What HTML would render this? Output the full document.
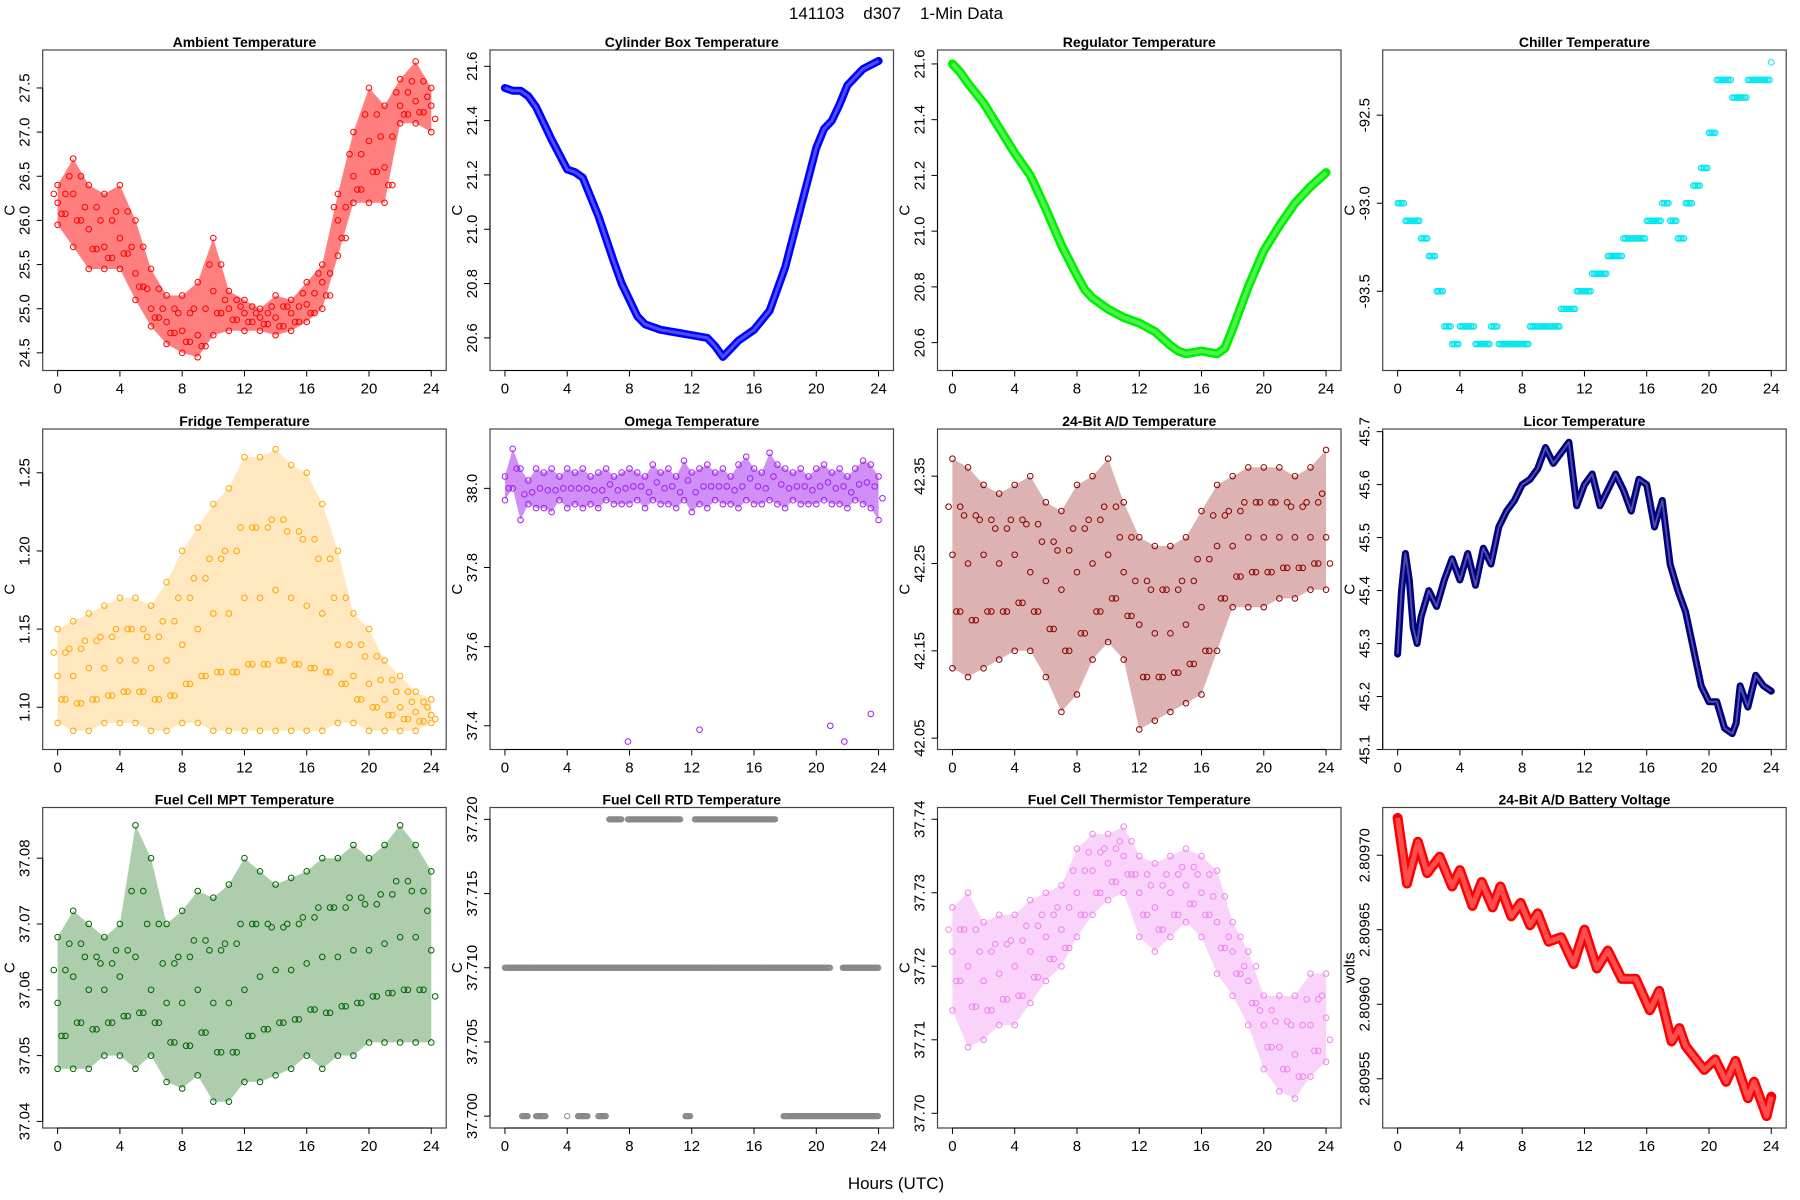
<!DOCTYPE html>
<html><head><meta charset="utf-8"><title>141103 d307 1-Min Data</title>
<style>
html,body{margin:0;padding:0;background:#fff;}
svg{display:block;font-family:"Liberation Sans",Arial,sans-serif;}
</style></head>
<body>
<svg id="chart" width="1800" height="1200" viewBox="0 0 1800 1200" xmlns="http://www.w3.org/2000/svg">
<text x="896" y="19" font-size="17" text-anchor="middle" style="white-space:pre">141103    d307    1-Min Data</text>
<text x="896" y="1189" font-size="17" text-anchor="middle">Hours (UTC)</text>
</svg>
<script>
// ---------- data ----------
const hours = [0,1,2,3,4,5,6,7,8,9,10,11,12,13,14,15,16,17,18,19,20,21,22,23,24];
const halfHours = [0,0.5,1,1.5,2,2.5,3,3.5,4,4.5,5,5.5,6,6.5,7,7.5,8,8.5,9,9.5,10,10.5,11,11.5,12,12.5,13,13.5,14,14.5,15,15.5,16,16.5,17,17.5,18,18.5,19,19.5,20,20.5,21,21.5,22,22.5,23,23.5,24];

const ambientMid = [26.2,26.3,25.9,25.7,25.8,25.4,25.0,24.85,24.75,24.7,25.2,25.0,24.95,24.9,24.9,24.95,25.05,25.3,26.0,26.5,26.9,26.6,27.3,27.35,27.3];
const ambientLo  = [25.95,25.7,25.45,25.45,25.45,25.1,24.8,24.6,24.5,24.45,24.7,24.75,24.75,24.75,24.7,24.75,24.85,25.0,25.6,26.2,26.2,26.2,27.1,27.1,27.0];
const ambientHi  = [26.4,26.7,26.4,26.3,26.4,26.0,25.45,25.15,25.15,25.3,25.8,25.2,25.1,25.0,25.15,25.1,25.3,25.5,26.3,27.0,27.5,27.3,27.6,27.8,27.5];

const cylinderT = [0,0.5,1,1.5,2,3,4,4.5,5,6,7,7.5,8,8.5,9,10,11,12,13,13.5,14,14.5,15,16,17,17.5,18,19,20,20.5,21,21.5,22,23,24];
const cylinderVals = [21.52,21.51,21.51,21.49,21.45,21.33,21.22,21.21,21.19,21.05,20.88,20.8,20.74,20.68,20.65,20.63,20.62,20.61,20.6,20.57,20.53,20.56,20.59,20.63,20.7,20.78,20.86,21.08,21.3,21.37,21.4,21.46,21.53,21.59,21.62];
const regulatorT = [0,0.5,1,2,3,4,5,6,7,8,8.5,9,10,11,12,13,14,14.5,15,16,17,17.5,18,19,20,21,22,23,24];
const regulatorVals = [21.6,21.57,21.53,21.46,21.37,21.28,21.2,21.08,20.95,20.84,20.79,20.76,20.72,20.69,20.67,20.64,20.59,20.57,20.56,20.57,20.56,20.58,20.65,20.8,20.93,21.02,21.1,21.16,21.21];

const chillerVals = [-93.0,-93.1,-93.1,-93.2,-93.3,-93.5,-93.7,-93.8,-93.7,-93.7,-93.8,-93.8,-93.7,-93.8,-93.8,-93.8,-93.8,-93.7,-93.7,-93.7,-93.7,-93.6,-93.6,-93.5,-93.5,-93.4,-93.4,-93.3,-93.3,-93.2,-93.2,-93.2,-93.1,-93.1,-93.0,-93.1,-93.2,-93.0,-92.9,-92.8,-92.6,-92.3,-92.3,-92.4,-92.4,-92.3,-92.3,-92.3,-92.2];

const fridgeHi  = [1.15,1.155,1.16,1.165,1.17,1.17,1.165,1.18,1.2,1.215,1.23,1.24,1.26,1.26,1.265,1.255,1.25,1.23,1.2,1.16,1.15,1.13,1.12,1.11,1.105];
const fridgeMid = [1.12,1.12,1.125,1.125,1.13,1.13,1.125,1.13,1.14,1.15,1.16,1.16,1.17,1.17,1.175,1.17,1.165,1.16,1.14,1.12,1.115,1.105,1.1,1.097,1.095];
const fridgeLo  = [1.09,1.085,1.085,1.09,1.09,1.09,1.085,1.085,1.09,1.09,1.085,1.085,1.085,1.085,1.085,1.085,1.085,1.085,1.09,1.09,1.085,1.085,1.085,1.085,1.09];

const omegaHi = [38.03,38.1,38.05,38.02,38.05,38.04,38.05,38.03,38.05,38.04,38.05,38.03,38.04,38.05,38.03,38.04,38.05,38.04,38.03,38.06,38.04,38.05,38.03,38.07,38.04,38.05,38.06,38.04,38.05,38.03,38.06,38.08,38.05,38.04,38.09,38.06,38.05,38.04,38.05,38.03,38.05,38.06,38.04,38.05,38.03,38.05,38.07,38.06,38.03];
const omegaLo = [37.97,38.0,37.92,37.96,37.95,37.95,37.94,37.97,37.95,37.96,37.95,37.96,37.95,37.97,37.96,37.96,37.96,37.97,37.95,37.97,37.96,37.96,37.95,37.97,37.94,37.96,37.95,37.97,37.96,37.96,37.95,37.97,37.96,37.96,37.97,37.96,37.95,37.97,37.96,37.96,37.96,37.97,37.96,37.96,37.95,37.97,37.96,37.95,37.92];
const omegaOutlierT = [7.9,12.5,20.9,21.8,23.5];
const omegaOutlierV = [37.36,37.39,37.40,37.36,37.43];

const adHi  = [42.37,42.36,42.34,42.33,42.34,42.35,42.32,42.31,42.34,42.35,42.37,42.32,42.28,42.27,42.27,42.28,42.31,42.34,42.35,42.36,42.36,42.36,42.35,42.36,42.38];
const adMid = [42.26,42.25,42.26,42.25,42.26,42.24,42.23,42.22,42.24,42.25,42.26,42.24,42.18,42.17,42.17,42.18,42.2,42.27,42.27,42.28,42.28,42.28,42.28,42.28,42.28];
const adLo  = [42.13,42.12,42.13,42.14,42.15,42.15,42.12,42.08,42.1,42.14,42.16,42.14,42.06,42.07,42.08,42.09,42.1,42.15,42.2,42.2,42.2,42.21,42.21,42.22,42.22];

const licorT = [0,0.25,0.5,0.75,1.0,1.25,1.5,2,2.5,3,3.5,4,4.5,5,5.5,6,6.5,7,7.5,8,8.5,9,9.5,10,10.5,11,11.5,12,12.5,13,13.5,14,14.5,15,15.5,16,16.5,17,17.5,18,18.5,19,19.5,20,20.5,21,21.5,21.75,22,22.5,23,23.5,24];
const licorVals = [45.28,45.4,45.47,45.42,45.33,45.3,45.35,45.4,45.37,45.42,45.46,45.42,45.47,45.41,45.48,45.45,45.52,45.55,45.57,45.6,45.61,45.63,45.67,45.64,45.66,45.68,45.56,45.6,45.62,45.56,45.59,45.62,45.59,45.55,45.61,45.6,45.52,45.57,45.45,45.4,45.36,45.29,45.22,45.19,45.19,45.14,45.13,45.15,45.22,45.18,45.24,45.22,45.21];

const mptHi  = [37.068,37.072,37.07,37.068,37.07,37.085,37.08,37.07,37.072,37.075,37.074,37.076,37.08,37.078,37.076,37.077,37.078,37.08,37.08,37.082,37.08,37.082,37.085,37.082,37.078];
const mptMid = [37.058,37.062,37.06,37.06,37.062,37.065,37.06,37.058,37.058,37.06,37.058,37.058,37.06,37.062,37.063,37.063,37.064,37.065,37.065,37.066,37.066,37.067,37.068,37.068,37.066];
const mptLo  = [37.048,37.048,37.048,37.05,37.05,37.048,37.05,37.046,37.045,37.047,37.043,37.043,37.046,37.046,37.047,37.048,37.05,37.048,37.05,37.05,37.052,37.052,37.052,37.052,37.052];

const rtdLevel = [37.71,37.71,37.72,37.72,37.72,37.70,37.70,37.70,37.70,37.70,37.70,37.70];
const rtdStart = [0,21.7,6.7,7.9,12.2,1.1,2.0,4.0,4.7,6.0,11.6,17.9];
const rtdEnd   = [20.9,24,7.5,11.3,17.4,1.5,2.6,4.0,5.3,6.5,11.9,24];

const thermHi  = [37.728,37.73,37.726,37.727,37.727,37.729,37.73,37.731,37.736,37.738,37.738,37.739,37.735,37.734,37.735,37.736,37.735,37.733,37.726,37.722,37.716,37.716,37.716,37.719,37.719];
const thermMid = [37.722,37.72,37.718,37.719,37.72,37.722,37.724,37.725,37.73,37.733,37.734,37.735,37.73,37.728,37.73,37.731,37.73,37.726,37.722,37.718,37.712,37.709,37.708,37.712,37.713];
const thermLo  = [37.714,37.709,37.71,37.712,37.712,37.715,37.718,37.72,37.724,37.727,37.729,37.73,37.724,37.722,37.724,37.726,37.724,37.719,37.716,37.712,37.706,37.703,37.702,37.705,37.707];

const batteryT = [0,0.6,1.3,1.9,2.7,3.5,4.0,4.8,5.4,6.1,6.6,7.3,7.9,8.5,9.0,9.7,10.5,11.3,12.0,12.8,13.5,14.4,15.3,16.2,16.8,17.6,18.1,18.5,19.7,20.4,21.1,21.7,22.5,22.9,23.7,24];
const batteryV = [2.809725,2.809681,2.809709,2.809688,2.809699,2.809679,2.80969,2.809666,2.809682,2.809665,2.809679,2.809659,2.809668,2.809653,2.809661,2.809642,2.809645,2.809627,2.80965,2.809624,2.809636,2.809617,2.809617,2.809596,2.809609,2.809575,2.809584,2.809572,2.809556,2.809563,2.809548,2.809562,2.809537,2.809548,2.809525,2.809538];

const xTicks = [0,4,8,12,16,20,24];

// ---------- layout ----------
const NS = "http://www.w3.org/2000/svg";
const svg = document.getElementById('chart');
const lefts = [42.7,490,937.5,1382.7], tops = [50,429,807.5];
const PW = 403.5, PH = 320.5;

function mk(tag, attrs, parent){
  const e = document.createElementNS(NS, tag);
  for (const k in attrs) e.setAttribute(k, attrs[k]);
  (parent||svg).appendChild(e);
  return e;
}

function makePanel(col,row,title,ylim,yticks,ylabels,ytitle,name){
  const g = mk('g',{});
  
  
  const L = lefts[col], T = tops[row];
  const xs = t => L + (t+0.96)/25.92*PW;
  const ys = v => T + (ylim[1]-v)/(ylim[1]-ylim[0])*PH;
  const marks = mk('g',{'clip-path':'url(#clip'+col+row+')'},g);
  
  
  const cp = mk('clipPath',{id:'clip'+col+row},g);
  mk('rect',{x:L,y:T,width:PW,height:PH},cp);
  const box = mk('rect',{x:L,y:T,width:PW,height:PH,fill:'none',stroke:'#444','stroke-width':1.2},g);
  
  
  const B = T+PH;
  mk('line',{x1:xs(0),x2:xs(24),y1:B,y2:B,stroke:'#000','stroke-width':1},g);
  xTicks.forEach(t=>{
    mk('line',{x1:xs(t),x2:xs(t),y1:B,y2:B+6,stroke:'#000','stroke-width':1},g);
    const tx = mk('text',{x:xs(t),y:B+23,'font-size':15,'text-anchor':'middle'},g);
    tx.textContent = t;
    
    
  });
  mk('line',{x1:L,x2:L,y1:ys(yticks[0]),y2:ys(yticks[yticks.length-1]),stroke:'#000','stroke-width':1},g);
  yticks.forEach((v,i)=>{
    const y = ys(v);
    mk('line',{x1:L-6,x2:L,y1:y,y2:y,stroke:'#000','stroke-width':1},g);
    const tx = mk('text',{x:L-13,y:y,'font-size':15,'text-anchor':'middle',transform:'rotate(-90 '+(L-13)+' '+y+')'},g);
    tx.textContent = ylabels[i];
    
    
  });
  const yt = mk('text',{x:L-28,y:T+PH/2,'font-size':15,'text-anchor':'middle',transform:'rotate(-90 '+(L-28)+' '+(T+PH/2)+')'},g);
  yt.textContent = ytitle;
  
  
  const tt = mk('text',{x:L+PW/2,y:T-3,'font-size':14,'font-weight':'bold','text-anchor':'middle'},g);
  tt.textContent = title;
  
  
  return {xs,ys,marks};
}

function circ(p,t,v,color,r){
  const c = mk('circle',{cx:p.xs(t),cy:p.ys(v),r:r||2.8,fill:'none',stroke:color,'stroke-width':1},p.marks);
  
  
}
function band(p,ts,lo,hi,color,op){
  let d = '';
  ts.forEach((t,i)=>{ d += (i?'L':'M')+p.xs(t).toFixed(1)+','+p.ys(hi[i]).toFixed(1); });
  for (let i=ts.length-1;i>=0;i--) d += 'L'+p.xs(ts[i]).toFixed(1)+','+p.ys(lo[i]).toFixed(1);
  const b = mk('path',{d:d+'Z',fill:color,'fill-opacity':op,stroke:'none'},p.marks);
  
  
}
function curve(p,ts,vs,color,w){
  let d='';
  ts.forEach((t,i)=>{ d += (i?'L':'M')+p.xs(t).toFixed(1)+','+p.ys(vs[i]).toFixed(1); });
  const c = mk('path',{d:d,fill:'none',stroke:color,'stroke-width':w,'stroke-linejoin':'round','stroke-linecap':'round'},p.marks);
  
  
  const c2 = mk('path',{d:d,fill:'none',stroke:'#fff','stroke-opacity':0.3,'stroke-width':Math.max(1,w-5),'stroke-linejoin':'round'},p.marks);
  
  
}
function scatter3(p,ts,lo,mid,hi,color,op){
  band(p,ts,lo,hi,color,op);
  ts.forEach((t,i)=>{ circ(p,t,lo[i],color); circ(p,t,mid[i],color); circ(p,t,hi[i],color);
    circ(p,t+0.25,(lo[i]+mid[i])/2,color); circ(p,t-0.25,(mid[i]+hi[i])/2,color);
    if(i<ts.length-1){ circ(p,t+0.5,(lo[i]+mid[i])/2,color); circ(p,t+0.5,(mid[i]+hi[i])/2,color);} });
}

let p = makePanel(0,0,'Ambient Temperature',[24.3,27.93],[24.5,25,25.5,26,26.5,27,27.5],['24.5','25.0','25.5','26.0','26.5','27.0','27.5'],'C','ambient');
scatter3(p,hours,ambientLo,ambientMid,ambientHi,'#ff0000',0.5);
p = makePanel(1,0,'Cylinder Box Temperature',[20.48,21.66],[20.6,20.8,21.0,21.2,21.4,21.6],['20.6','20.8','21.0','21.2','21.4','21.6'],'C','cylinder-box');
curve(p,cylinderT,cylinderVals,'#0000ff',8);
p = makePanel(2,0,'Regulator Temperature',[20.5,21.65],[20.6,20.8,21.0,21.2,21.4,21.6],['20.6','20.8','21.0','21.2','21.4','21.6'],'C','regulator');
curve(p,regulatorT,regulatorVals,'#00ee00',9);
p = makePanel(3,0,'Chiller Temperature',[-93.95,-92.13],[-93.5,-93.0,-92.5],['-93.5','-93.0','-92.5'],'C','chiller');
halfHours.forEach((t,i)=>{ for(let k=0;k<5;k++){ const tt=t+k*0.1; if(tt<=24) circ(p,tt,chillerVals[i],'#00e5ee'); } });
p = makePanel(0,1,'Fridge Temperature',[1.073,1.278],[1.10,1.15,1.20,1.25],['1.10','1.15','1.20','1.25'],'C','fridge');
scatter3(p,hours,fridgeLo,fridgeMid,fridgeHi,'#ffa500',0.25);
p = makePanel(1,1,'Omega Temperature',[37.34,38.15],[37.4,37.6,37.8,38.0],['37.4','37.6','37.8','38.0'],'C','omega');
band(p,halfHours,omegaLo,omegaHi,'#a020f0',0.5);
halfHours.forEach((t,i)=>{ circ(p,t,omegaLo[i],'#a020f0'); circ(p,t,omegaHi[i],'#a020f0'); circ(p,t+0.25,(omegaLo[i]+omegaHi[i])/2,'#a020f0'); });
omegaOutlierT.forEach((t,i)=>circ(p,t,omegaOutlierV[i],'#a020f0'));
p = makePanel(2,1,'24-Bit A/D Temperature',[42.037,42.404],[42.05,42.15,42.25,42.35],['42.05','42.15','42.25','42.35'],'C','ad-temperature');
scatter3(p,hours,adLo,adMid,adHi,'#8b0000',0.3);
p = makePanel(3,1,'Licor Temperature',[45.1,45.705],[45.1,45.2,45.3,45.4,45.5,45.6,45.7],['45.1','45.2','45.3','45.4','45.5','45.6','45.7'],'C','licor');
curve(p,licorT,licorVals,'#000080',7);
p = makePanel(0,2,'Fuel Cell MPT Temperature',[37.039,37.0877],[37.04,37.05,37.06,37.07,37.08],['37.04','37.05','37.06','37.07','37.08'],'C','fuel-cell-mpt');
scatter3(p,hours,mptLo,mptMid,mptHi,'#006400',0.32);
p = makePanel(1,2,'Fuel Cell RTD Temperature',[37.6992,37.7208],[37.700,37.705,37.710,37.715,37.720],['37.700','37.705','37.710','37.715','37.720'],'C','fuel-cell-rtd');
rtdLevel.forEach((lv,i)=>{ for(let t=rtdStart[i]; t<=rtdEnd[i]+1e-9; t+=0.06) circ(p,t,lv,'#888888',2.6); });
p = makePanel(2,2,'Fuel Cell Thermistor Temperature',[37.698,37.7416],[37.70,37.71,37.72,37.73,37.74],['37.70','37.71','37.72','37.73','37.74'],'C','fuel-cell-thermistor');
scatter3(p,hours,thermLo,thermMid,thermHi,'#ee82ee',0.35);
p = makePanel(3,2,'24-Bit A/D Battery Voltage',[2.809517,2.809732],[2.80955,2.8096,2.80965,2.8097],['2.80955','2.80960','2.80965','2.80970'],'volts','battery-voltage');
curve(p,batteryT,batteryV,'#ff0000',10);
</script>
</body></html>
